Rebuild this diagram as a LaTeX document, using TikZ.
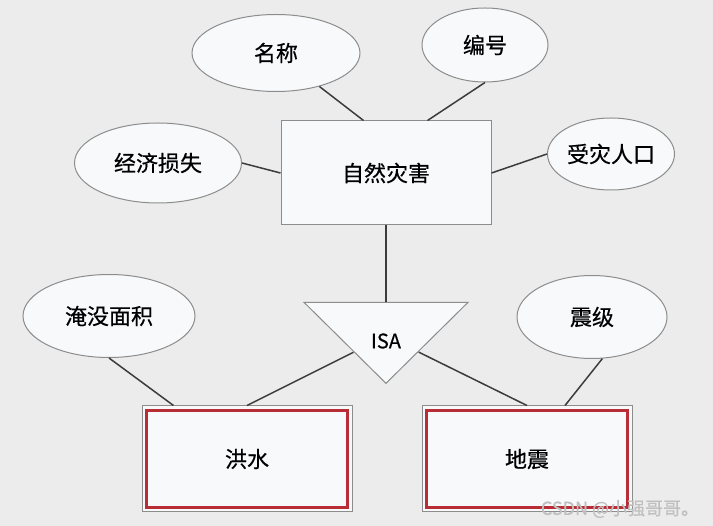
\documentclass[tikz,border=0pt]{standalone}
\usepackage{fontspec}
\setmainfont{Noto Sans CJK SC}[FakeBold=0.5]
\usetikzlibrary{shapes.geometric, calc, positioning}
\definecolor{bgcol}{RGB}{236,236,236}
\definecolor{boxfill}{RGB}{248,249,251}
\definecolor{edgegray}{RGB}{140,140,140}
\definecolor{linegray}{RGB}{60,60,60}
\definecolor{redline}{RGB}{185,45,55}

\begin{document}
\begin{tikzpicture}[x=1pt, y=-1pt,
    attr/.style={ellipse, draw=edgegray, line width=1pt, fill=boxfill,
                 inner sep=0pt, font=\fontsize{22}{24}\selectfont},
    entity/.style={rectangle, draw=edgegray, line width=1pt, fill=boxfill,
                   inner sep=0pt, font=\fontsize{22}{24}\selectfont},
    subent/.style={entity, path picture={
        \draw[redline, line width=2.8pt]
          ($(path picture bounding box.south west)+(4.5pt,4.5pt)$) rectangle
          ($(path picture bounding box.north east)-(4.5pt,4.5pt)$);}},
    link/.style={draw=linegray, line width=1.5pt}]

  % background
  \fill[bgcol] (0,0) rectangle (713,526);

  % entity and its attributes
  \node[entity, minimum width=210pt, minimum height=104pt] (zrzh) at (386,173) {自然灾害};
  \node[attr, minimum width=168pt, minimum height=77pt] (mc) at (276,53) {名称};
  \node[attr, minimum width=126pt, minimum height=74pt] (bh) at (485,45) {编号};
  \node[attr, minimum width=167pt, minimum height=80pt] (jjss) at (158,163) {经济损失};
  \node[attr, minimum width=127pt, minimum height=72pt] (szrk) at (611,154) {受灾人口};

  % ISA triangle
  \node[isosceles triangle, isosceles triangle stretches, shape border rotate=270,
        draw=edgegray, line width=1pt, fill=boxfill, inner sep=0pt,
        minimum width=164pt, minimum height=81pt] (isa) at (386,336) {};
  \node[font=\fontsize{20}{22}\selectfont] (isatxt) at (386,341) {ISA};

  % sub entities
  \node[attr, minimum width=172pt, minimum height=83pt] (ymmj) at (109,316) {淹没面积};
  \node[attr, minimum width=150pt, minimum height=83pt] (zj) at (592,317) {震级};
  \node[subent, minimum width=210pt, minimum height=106pt] (hs) at (247,459) {洪水};
  \node[subent, minimum width=210pt, minimum height=106pt] (dz) at (527,459) {地震};

  % connectors
  \draw[link] (mc) -- ([xshift=83pt]zrzh.north west);
  \draw[link] (bh.south) -- ([xshift=-64pt]zrzh.north east);
  \draw[link] (jjss.east) -- (zrzh.west);
  \draw[link] (szrk.west) -- (zrzh.east);
  \draw[link] (zrzh) -- (isa);
  \draw[link] (isa) -- (hs.north);
  \draw[link] (isa) -- (dz.north);
  \draw[link] (ymmj.south) -- ([xshift=32pt]hs.north west);
  \draw[link] (zj.-76) -- ([xshift=38pt]dz.north);

  % watermark
  \node[text=gray!50, font=\fontsize{18}{20}\selectfont] (wm) at (620,509) {CSDN @小强哥哥。};
\end{tikzpicture}
\end{document}
